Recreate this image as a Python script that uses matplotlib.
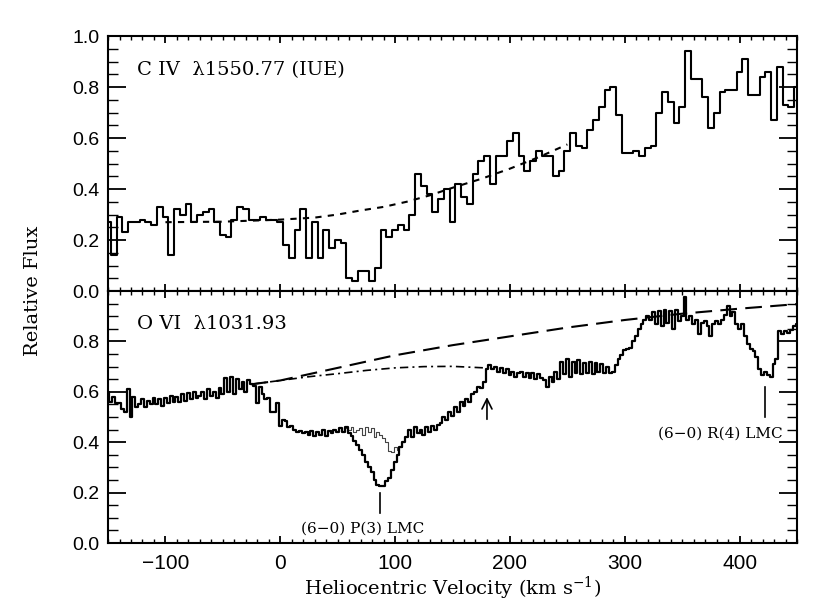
import numpy as np
import matplotlib
matplotlib.use("Agg")
import matplotlib.pyplot as plt

# ---- C IV (IUE), 5 km/s bins starting at -150 km/s
civ_v0, civ_dv = -150.0, 5.0
civ_flux = [
    0.27, 0.14, 0.29, 0.23, 0.27, 0.27, 0.28, 0.27, 0.26, 0.33,
    0.29, 0.14, 0.32, 0.30, 0.34, 0.27, 0.30, 0.31, 0.32, 0.27,
    0.22, 0.21, 0.28, 0.33, 0.32, 0.28, 0.28, 0.29, 0.28, 0.28,
    0.27, 0.18, 0.13, 0.24, 0.32, 0.13, 0.27, 0.13, 0.24, 0.17,
    0.20, 0.19, 0.05, 0.04, 0.08, 0.08, 0.04, 0.09, 0.24, 0.21,
    0.24, 0.26, 0.24, 0.30, 0.46, 0.41, 0.38, 0.31, 0.36, 0.40,
    0.27, 0.42, 0.37, 0.34, 0.46, 0.51, 0.53, 0.42, 0.53, 0.53,
    0.59, 0.62, 0.53, 0.47, 0.51, 0.55, 0.53, 0.53, 0.45, 0.47,
    0.55, 0.62, 0.57, 0.56, 0.63, 0.67, 0.72, 0.79, 0.80, 0.69,
    0.54, 0.54, 0.55, 0.53, 0.56, 0.57, 0.70, 0.78, 0.74, 0.66,
    0.72, 0.94, 0.83, 0.83, 0.76, 0.64, 0.70, 0.78, 0.79, 0.79,
    0.86, 0.91, 0.77, 0.77, 0.84, 0.86, 0.67, 0.88, 0.73, 0.72,
    0.80,
]
civ_cont_v = [-100, -50, 0, 30, 50, 70, 90, 110, 130, 150, 175, 200, 225, 250]
civ_cont_f = [0.270, 0.272, 0.280, 0.288, 0.300, 0.316, 0.330, 0.350, 0.375,
              0.405, 0.440, 0.480, 0.525, 0.575]

# ---- O VI (FUSE), 2.5 km/s bins starting at -150 km/s (4 bins per row)
ovi_v0, ovi_dv = -150.0, 2.5
ovi_flux = [
    0.60, 0.56, 0.58, 0.555,     # -150
    0.555, 0.53, 0.52, 0.61,     # -140
    0.50, 0.58, 0.54, 0.55,      # -130
    0.57, 0.54, 0.565, 0.55,     # -120
    0.575, 0.55, 0.57, 0.545,    # -110
    0.575, 0.555, 0.585, 0.56,   # -100
    0.58, 0.56, 0.59, 0.565,     # -90
    0.595, 0.57, 0.60, 0.575,    # -80
    0.585, 0.60, 0.57, 0.61,     # -70
    0.585, 0.60, 0.575, 0.615,   # -60
    0.59, 0.655, 0.60, 0.66,     # -50
    0.59, 0.65, 0.61, 0.64,      # -40
    0.60, 0.645, 0.63, 0.625,    # -30
    0.555, 0.62, 0.59, 0.57,     # -20
    0.575, 0.52, 0.52, 0.555,    # -10
    0.465, 0.49, 0.485, 0.46,    # 0
    0.465, 0.45, 0.44, 0.445,    # 10
    0.435, 0.44, 0.43, 0.445,    # 20
    0.425, 0.44, 0.43, 0.45,     # 30
    0.425, 0.445, 0.435, 0.45,   # 40
    0.44, 0.455, 0.44, 0.46,     # 50
    0.435, 0.425, 0.405, 0.39,   # 60
    0.37, 0.35, 0.32, 0.30,      # 70
    0.28, 0.25, 0.23, 0.225,     # 80
    0.225, 0.245, 0.26, 0.29,    # 90
    0.32, 0.35, 0.38, 0.40,      # 100
    0.42, 0.45, 0.42, 0.46,      # 110
    0.435, 0.45, 0.43, 0.46,     # 120
    0.44, 0.465, 0.45, 0.47,     # 130
    0.475, 0.50, 0.49, 0.52,     # 140
    0.505, 0.54, 0.52, 0.56,     # 150
    0.545, 0.57, 0.56, 0.59,     # 160
    0.60, 0.62, 0.615, 0.64,     # 170
    0.69, 0.705, 0.69, 0.70,     # 180
    0.68, 0.695, 0.675, 0.69,    # 190
    0.665, 0.68, 0.66, 0.675,    # 200
    0.68, 0.66, 0.675, 0.655,    # 210
    0.675, 0.65, 0.67, 0.655,    # 220
    0.645, 0.62, 0.66, 0.64,     # 230
    0.68, 0.65, 0.72, 0.67,      # 240
    0.73, 0.66, 0.72, 0.675,     # 250
    0.725, 0.67, 0.715, 0.675,   # 260
    0.72, 0.67, 0.715, 0.68,     # 270
    0.71, 0.675, 0.70, 0.675,    # 280
    0.68, 0.705, 0.73, 0.745,    # 290
    0.765, 0.77, 0.775, 0.80,    # 300
    0.82, 0.85, 0.87, 0.885,     # 310
    0.90, 0.885, 0.915, 0.87,    # 320
    0.92, 0.86, 0.925, 0.875,    # 330
    0.92, 0.85, 0.925, 0.88,     # 340
    0.90, 0.975, 0.885, 0.90,    # 350
    0.87, 0.885, 0.83, 0.875,    # 360
    0.88, 0.86, 0.82, 0.87,      # 370
    0.88, 0.87, 0.885, 0.905,    # 380
    0.94, 0.90, 0.915, 0.87,     # 390
    0.85, 0.87, 0.82, 0.79,      # 400
    0.77, 0.76, 0.74, 0.69,      # 410
    0.665, 0.68, 0.665, 0.66,    # 420
    0.71, 0.73, 0.84, 0.83,      # 430
    0.84, 0.835, 0.845, 0.86,    # 440
    0.87,                        # 450
]
# spectrum with the H2 P(3) line removed
ovi_clean_v0 = 57.5
ovi_clean = [0.455, 0.45, 0.46, 0.44, 0.45, 0.455, 0.43, 0.46, 0.44, 0.455,
             0.42, 0.44, 0.43, 0.415, 0.40, 0.365, 0.36, 0.38, 0.37, 0.38, 0.40]

ovi_cont_v = [-25, 0, 25, 50, 75, 100, 150, 200, 250, 300, 350, 400, 450]
ovi_cont_f = [0.63, 0.645, 0.67, 0.695, 0.72, 0.745, 0.785, 0.82, 0.855,
              0.885, 0.91, 0.93, 0.948]
ovi_cont2_v = [-25, 0, 25, 50, 75, 100, 125, 150, 178]
ovi_cont2_f = [0.63, 0.645, 0.66, 0.672, 0.685, 0.695, 0.70, 0.701, 0.695]

# H2 line markers: (tick velocity, tick bottom, tick top, label v, label f, text)
h2_marks = [
    (87, 0.118, 0.198, 72, 0.058, "(6\u22120) P(3) LMC"),
    (422, 0.50, 0.621, 383, 0.433, "(6\u22120) R(4) LMC"),
]
arrow_v, arrow_f0, arrow_f1 = 180, 0.48, 0.59

serif = ["DejaVu Serif"]
sans = ["Liberation Sans", "DejaVu Sans"]
plt.rcParams.update({
    "font.family": serif,
    "mathtext.fontset": "dejavuserif",
    "axes.linewidth": 1.5,
    "xtick.direction": "in",
    "ytick.direction": "in",
    "xtick.top": True,
    "ytick.right": True,
})

fig = plt.figure(figsize=(8.31, 6.12), dpi=100)
ax1 = fig.add_axes([0.1300, 0.5245, 0.8291, 0.4165])
ax2 = fig.add_axes([0.1300, 0.1127, 0.8291, 0.4118])

v_civ = civ_v0 + civ_dv * np.arange(len(civ_flux))
v_ovi = ovi_v0 + ovi_dv * np.arange(len(ovi_flux))
v_clean = ovi_clean_v0 + ovi_dv * np.arange(len(ovi_clean))

ax1.step(v_civ, civ_flux, where="mid", color="black", lw=1.5)
ax1.plot(civ_cont_v, civ_cont_f, color="black", lw=1.5, ls=(0, (3, 3)))

ax2.step(v_clean, ovi_clean, where="mid", color="#444444", lw=0.8)
ax2.step(v_ovi, ovi_flux, where="mid", color="black", lw=1.6)
ax2.plot(ovi_cont_v, ovi_cont_f, color="black", lw=1.5, ls=(0, (8, 4)))
ax2.plot(ovi_cont2_v, ovi_cont2_f, color="black", lw=1.2, ls=(0, (5, 2.5, 1.2, 2.5)))

for tv, t0, t1, lv, lf, txt in h2_marks:
    ax2.plot([tv, tv], [t0, t1], color="black", lw=1.2)
    ax2.text(lv, lf, txt, ha="center", va="center", fontsize=11)

ax2.annotate("", xy=(arrow_v, arrow_f1), xytext=(arrow_v, arrow_f0),
             arrowprops=dict(arrowstyle="->", lw=1.2, color="black",
                             mutation_scale=18))

ax1.text(-125, 0.865, "C IV  \u03bb1550.77 (IUE)", va="center", fontsize=14)
ax2.text(-125, 0.87, "O VI  \u03bb1031.93", va="center", fontsize=14)

for ax in (ax1, ax2):
    ax.set_xlim(-150, 450)
    ax.set_ylim(0, 1.0)
    ax.set_xticks(np.arange(-100, 401, 100))
    ax.set_xticks(np.arange(-150, 451, 10), minor=True)
    ax.set_yticks(np.arange(0, 1.01, 0.05), minor=True)
    ax.tick_params(axis="x", which="major", length=5, width=1.3)
    ax.tick_params(axis="x", which="minor", length=3, width=1.0)
    ax.tick_params(axis="y", which="major", length=13, width=1.3)
    ax.tick_params(axis="y", which="minor", length=7, width=1.0)

ax1.set_yticks([0.0, 0.2, 0.4, 0.6, 0.8, 1.0])
ax1.set_yticklabels(["0.0", "0.2", "0.4", "0.6", "0.8", "1.0"], family=sans, fontsize=14)
ax1.tick_params(axis="x", labelbottom=False)
ax2.set_yticks([0.0, 0.2, 0.4, 0.6, 0.8, 1.0])
ax2.set_yticklabels(["0.0", "0.2", "0.4", "0.6", "0.8", ""], family=sans, fontsize=14)
ax2.set_xticklabels(["\u2212100", "0", "100", "200", "300", "400"], family=sans, fontsize=15)
ax2.tick_params(axis="x", pad=8)
ax1.tick_params(axis="y", pad=6)
ax2.tick_params(axis="y", pad=6)

ax2.set_xlabel("Heliocentric Velocity (km s$^{-1}$)", fontsize=14, labelpad=1)
fig.text(0.04, 0.5245, "Relative Flux", rotation=90, ha="center", va="center", fontsize=14)

fig.savefig("out.png", dpi=100)
